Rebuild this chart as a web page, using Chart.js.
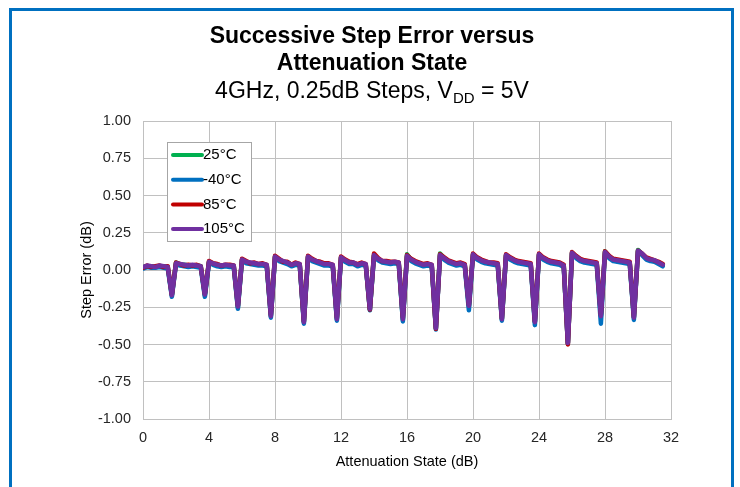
<!DOCTYPE html>
<html>
<head>
<meta charset="utf-8">
<script src="https://cdn.jsdelivr.net/npm/chart.js@4.4.0/dist/chart.umd.min.js"></script>
<style>
html, body { margin: 0; padding: 0; background: #fff; }
#wrap { position: relative; width: 740px; height: 487px; overflow: hidden; }
#frame { position: absolute; left: 9px; top: 8px; width: 725px; height: 520px; border: 3px solid #0070C0; box-sizing: border-box; }
#step_error { position: absolute; left: 0; top: 0; }
</style>
</head>
<body>
<div id="wrap">
  <div id="frame"></div>
  <canvas id="step_error" width="740" height="487"></canvas>
</div>
<script>
// attenuation states (dB)
const states = [
  0, 0.25, 0.5, 0.75, 1, 1.25, 1.5, 1.75,
  2, 2.25, 2.5, 2.75, 3, 3.25, 3.5, 3.75,
  4, 4.25, 4.5, 4.75, 5, 5.25, 5.5, 5.75,
  6, 6.25, 6.5, 6.75, 7, 7.25, 7.5, 7.75,
  8, 8.25, 8.5, 8.75, 9, 9.25, 9.5, 9.75,
  10, 10.25, 10.5, 10.75, 11, 11.25, 11.5, 11.75,
  12, 12.25, 12.5, 12.75, 13, 13.25, 13.5, 13.75,
  14, 14.25, 14.5, 14.75, 15, 15.25, 15.5, 15.75,
  16, 16.25, 16.5, 16.75, 17, 17.25, 17.5, 17.75,
  18, 18.25, 18.5, 18.75, 19, 19.25, 19.5, 19.75,
  20, 20.25, 20.5, 20.75, 21, 21.25, 21.5, 21.75,
  22, 22.25, 22.5, 22.75, 23, 23.25, 23.5, 23.75,
  24, 24.25, 24.5, 24.75, 25, 25.25, 25.5, 25.75,
  26, 26.25, 26.5, 26.75, 27, 27.25, 27.5, 27.75,
  28, 28.25, 28.5, 28.75, 29, 29.25, 29.5, 29.75,
  30, 30.25, 30.5, 30.75, 31, 31.25, 31.5
];

const err_25 = [
  0.020, 0.025, 0.025, 0.020, 0.025, 0.025, 0.020, -0.170,
  0.050, 0.035, 0.035, 0.030, 0.030, 0.030, 0.025, -0.170,
  0.055, 0.040, 0.035, 0.030, 0.030, 0.030, 0.025, -0.250,
  0.070, 0.050, 0.045, 0.045, 0.035, 0.040, 0.030, -0.310,
  0.090, 0.065, 0.055, 0.050, 0.035, 0.045, 0.035, -0.350,
  0.090, 0.065, 0.055, 0.050, 0.040, 0.040, 0.030, -0.330,
  0.085, 0.060, 0.050, 0.045, 0.035, 0.045, 0.035, -0.265,
  0.100, 0.070, 0.055, 0.050, 0.050, 0.050, 0.045, -0.335,
  0.105, 0.070, 0.055, 0.045, 0.035, 0.040, 0.030, -0.390,
  0.110, 0.080, 0.060, 0.050, 0.040, 0.045, 0.035, -0.245,
  0.105, 0.075, 0.060, 0.050, 0.045, 0.045, 0.035, -0.330,
  0.100, 0.075, 0.060, 0.050, 0.045, 0.045, 0.035, -0.350,
  0.105, 0.075, 0.060, 0.050, 0.045, 0.045, 0.030, -0.490,
  0.115, 0.085, 0.065, 0.055, 0.050, 0.050, 0.040, -0.310,
  0.125, 0.090, 0.070, 0.060, 0.055, 0.055, 0.045, -0.320,
  0.135, 0.105, 0.080, 0.070, 0.060, 0.050, 0.035
];

const err_m40 = [
  0.010, 0.020, 0.015, 0.015, 0.020, 0.015, 0.010, -0.180,
  0.040, 0.030, 0.025, 0.020, 0.025, 0.020, 0.015, -0.180,
  0.050, 0.035, 0.025, 0.020, 0.025, 0.020, 0.020, -0.260,
  0.065, 0.045, 0.040, 0.035, 0.030, 0.030, 0.025, -0.320,
  0.085, 0.060, 0.050, 0.040, 0.025, 0.035, 0.030, -0.360,
  0.085, 0.060, 0.050, 0.040, 0.030, 0.030, 0.025, -0.340,
  0.080, 0.055, 0.040, 0.040, 0.025, 0.035, 0.030, -0.270,
  0.095, 0.065, 0.050, 0.045, 0.040, 0.045, 0.040, -0.345,
  0.090, 0.060, 0.045, 0.035, 0.025, 0.030, 0.025, -0.400,
  0.095, 0.070, 0.050, 0.040, 0.030, 0.035, 0.025, -0.270,
  0.100, 0.070, 0.055, 0.045, 0.040, 0.035, 0.030, -0.340,
  0.095, 0.070, 0.055, 0.045, 0.040, 0.035, 0.030, -0.370,
  0.100, 0.070, 0.055, 0.045, 0.040, 0.035, 0.020, -0.495,
  0.110, 0.080, 0.060, 0.050, 0.045, 0.040, 0.035, -0.360,
  0.115, 0.080, 0.060, 0.055, 0.050, 0.045, 0.040, -0.335,
  0.125, 0.100, 0.070, 0.060, 0.055, 0.040, 0.025
];

const err_85 = [
  0.015, 0.030, 0.020, 0.025, 0.030, 0.020, 0.025, -0.165,
  0.050, 0.040, 0.030, 0.035, 0.030, 0.035, 0.025, -0.160,
  0.060, 0.045, 0.040, 0.030, 0.035, 0.035, 0.030, -0.240,
  0.075, 0.060, 0.045, 0.050, 0.040, 0.045, 0.035, -0.300,
  0.095, 0.075, 0.055, 0.055, 0.035, 0.050, 0.040, -0.345,
  0.095, 0.075, 0.060, 0.055, 0.045, 0.045, 0.035, -0.320,
  0.090, 0.070, 0.055, 0.050, 0.040, 0.050, 0.040, -0.265,
  0.110, 0.080, 0.060, 0.060, 0.055, 0.055, 0.050, -0.320,
  0.100, 0.075, 0.060, 0.050, 0.040, 0.045, 0.035, -0.395,
  0.105, 0.085, 0.065, 0.055, 0.045, 0.050, 0.040, -0.235,
  0.110, 0.085, 0.070, 0.060, 0.050, 0.050, 0.045, -0.325,
  0.105, 0.085, 0.070, 0.060, 0.055, 0.050, 0.045, -0.345,
  0.110, 0.085, 0.070, 0.060, 0.055, 0.050, 0.035, -0.500,
  0.120, 0.095, 0.075, 0.065, 0.060, 0.055, 0.050, -0.300,
  0.125, 0.095, 0.075, 0.070, 0.065, 0.060, 0.055, -0.315,
  0.130, 0.110, 0.085, 0.075, 0.065, 0.055, 0.040
];

const err_105 = [
  0.020, 0.030, 0.025, 0.020, 0.030, 0.025, 0.020, -0.170,
  0.045, 0.040, 0.035, 0.030, 0.035, 0.030, 0.025, -0.165,
  0.055, 0.045, 0.035, 0.030, 0.035, 0.030, 0.030, -0.245,
  0.070, 0.055, 0.050, 0.045, 0.040, 0.040, 0.035, -0.310,
  0.090, 0.070, 0.060, 0.050, 0.035, 0.045, 0.040, -0.350,
  0.090, 0.070, 0.060, 0.050, 0.040, 0.040, 0.035, -0.330,
  0.085, 0.065, 0.050, 0.050, 0.035, 0.045, 0.040, -0.260,
  0.100, 0.075, 0.060, 0.055, 0.050, 0.055, 0.050, -0.330,
  0.095, 0.070, 0.055, 0.045, 0.035, 0.040, 0.035, -0.390,
  0.100, 0.080, 0.060, 0.050, 0.040, 0.045, 0.035, -0.240,
  0.105, 0.080, 0.065, 0.055, 0.050, 0.045, 0.040, -0.330,
  0.100, 0.080, 0.065, 0.055, 0.050, 0.045, 0.040, -0.350,
  0.105, 0.080, 0.065, 0.055, 0.050, 0.045, 0.030, -0.490,
  0.115, 0.090, 0.070, 0.060, 0.055, 0.050, 0.045, -0.310,
  0.120, 0.090, 0.070, 0.065, 0.060, 0.055, 0.050, -0.320,
  0.130, 0.110, 0.080, 0.070, 0.065, 0.050, 0.035
];

const seriesNames = ["25°C", "-40°C", "85°C", "105°C"];
const seriesColors = ["#00B050", "#0070C0", "#C00000", "#7030A0"];
const seriesValues = [err_25, err_m40, err_85, err_105];
const drawOrder = [4, 3, 2, 1]; // 105C on top

const FONT = "'Liberation Sans', Arial, sans-serif";

function toPoints(vals) {
    let pts = [];
    for (let i = 0; i < vals.length; i++) {
        pts.push({x: states[i], y: vals[i]});
    }
    return pts;
}

// title block with the V_DD subscript
const titlePlugin = {
    id: "titleBlock",
    afterDraw(chart) {
        const ctx = chart.ctx;
        const cx = 372;
        ctx.save();
        ctx.fillStyle = "#000";
        ctx.textBaseline = "middle";
        ctx.textAlign = "center";
        ctx.font = "bold 23px " + FONT;
        ctx.fillText("Successive Step Error versus", cx, 37);
        ctx.fillText("Attenuation State", cx, 64);

        ctx.textAlign = "left";
        const big = "23px " + FONT, small = "15px " + FONT;
        const a = "4GHz, 0.25dB Steps, V", b = "DD", c = " = 5V";
        ctx.font = big; const wa = ctx.measureText(a).width, wc = ctx.measureText(c).width;
        ctx.font = small; const wb = ctx.measureText(b).width;
        let x = cx - (wa + wb + wc) / 2;
        ctx.font = big; ctx.fillText(a, x, 92); x += wa;
        ctx.font = small; ctx.fillText(b, x, 99); x += wb;
        ctx.font = big; ctx.fillText(c, x, 92);
        ctx.restore();
    }
};

// boxed legend inside the plot
const legendPlugin = {
    id: "boxLegend",
    afterDraw(chart) {
        const ctx = chart.ctx;
        ctx.save();
        ctx.fillStyle = "#fff";
        ctx.fillRect(167, 142, 84, 99);
        ctx.strokeStyle = "#a6a6a6";
        ctx.lineWidth = 1;
        ctx.strokeRect(167.5, 142.5, 84, 99);
        ctx.font = "15px " + FONT;
        ctx.textBaseline = "middle";
        ctx.textAlign = "left";
        for (let i = 0; i < seriesNames.length; i++) {
            let y = 155 + i * 24.7;
            ctx.strokeStyle = seriesColors[i];
            ctx.lineWidth = 4;
            ctx.lineCap = "round";
            ctx.beginPath();
            ctx.moveTo(173, y);
            ctx.lineTo(202, y);
            ctx.stroke();
            ctx.fillStyle = "#000";
            ctx.fillText(seriesNames[i], 203, y);
        }
        ctx.restore();
    }
};

let datasets = [];
for (let i = 0; i < seriesValues.length; i++) {
    datasets.push({
        label: seriesNames[i],
        data: toPoints(seriesValues[i]),
        borderColor: seriesColors[i],
        borderWidth: 4.5,
        borderJoinStyle: "round",
        borderCapStyle: "round",
        pointRadius: 0,
        tension: 0,
        fill: false,
        order: drawOrder[i]
    });
}

new Chart("step_error", {
    type: "line",
    data: {datasets: datasets},
    options: {
        responsive: false,
        animation: false,
        layout: {padding: {top: 121, right: 69, left: 0, bottom: 0}},
        plugins: {
            legend: {display: false},
            title: {display: false},
            tooltip: {enabled: false}
        },
        scales: {
            x: {
                type: "linear",
                min: 0,
                max: 32,
                ticks: {stepSize: 4, padding: 10, color: "#262626", font: {family: FONT, size: 14.5}},
                grid: {color: "#c0c0c0", drawTicks: false},
                border: {color: "#c0c0c0"},
                title: {display: true, text: "Attenuation State (dB)", color: "#000",
                        font: {family: FONT, size: 14.5}, padding: {top: 0, bottom: 16}},
                afterFit: function (s) { s.height = 68; }
            },
            y: {
                min: -1,
                max: 1,
                ticks: {stepSize: 0.25, padding: 12, color: "#262626", font: {family: FONT, size: 14.5},
                        callback: function (v) { return v.toFixed(2); }},
                grid: {color: "#c0c0c0", drawTicks: false},
                border: {color: "#c0c0c0"},
                title: {display: true, text: "Step Error (dB)", color: "#000",
                        font: {family: FONT, size: 14.5}, padding: {top: 78, bottom: 0}},
                afterFit: function (s) { s.width = 143; }
            }
        }
    },
    plugins: [titlePlugin, legendPlugin]
});
</script>
</body>
</html>
